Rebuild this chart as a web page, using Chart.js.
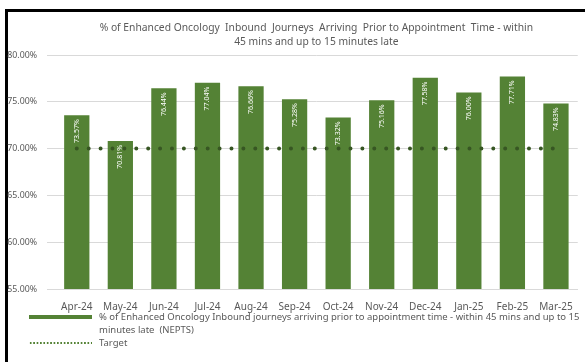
<!DOCTYPE html>
<html>
<head>
<meta charset="utf-8">
<script src="https://cdn.jsdelivr.net/npm/chart.js@4.4.1/dist/chart.umd.min.js"></script>
<style>
  html, body { margin: 0; padding: 0; background: #fff; }
  body { width: 585px; height: 362px; position: relative; overflow: hidden; font-family: "Noto Sans", sans-serif; }
  #frame { position: absolute; left: 5px; top: 9px; width: 700px; height: 500px; border-left: 3px solid #000; border-top: 3px solid #000; }
  #wrap { position: absolute; left: 0; top: 0; width: 585px; height: 325px; }
  #legend { position: absolute; left: 29px; top: 310px; width: 554px; font-size: 9.5px; color: #595959; line-height: 13px; }
  .row { display: flex; align-items: flex-start; }
  .swatch { width: 63px; flex: none; margin-right: 7px; height: 13px; position: relative; }
  .bar-sw { position: absolute; left: 0; right: 0; top: 5px; height: 4px; background: #548235; }
  .dot-sw { position: absolute; left: 0; right: 0; top: 6px; height: 2px; background-image: radial-gradient(circle, #548235 0.9px, transparent 1.1px); background-size: 3.4px 2px; }
</style>
</head>
<body>
<div id="frame"></div>
<div id="wrap"><canvas id="chart"></canvas></div>
<div id="legend">
  <div class="row"><div class="swatch"><div class="bar-sw"></div></div><div>% of Enhanced Oncology Inbound journeys arriving prior to appointment time - within 45 mins and up to 15 minutes late&nbsp; (NEPTS)</div></div>
  <div class="row"><div class="swatch"><div class="dot-sw"></div></div><div>Target</div></div>
</div>
<script>
// Dados do gráfico
const months = ['Apr-24', 'May-24', 'Jun-24', 'Jul-24', 'Aug-24', 'Sep-24', 'Oct-24', 'Nov-24', 'Dec-24', 'Jan-25', 'Feb-25', 'Mar-25'];
const journeys = [73.57, 70.81, 76.44, 77.04, 76.66, 75.28, 73.32, 75.16, 77.58, 76.00, 77.71, 74.83];
const target = [70, 70, 70, 70, 70, 70, 70, 70, 70, 70, 70, 70];
const yTicks = [55, 60, 65, 70, 75, 80];

const barGreen = '#548235';
const darkGreen = '#375623';
const textGrey = '#595959';

// rótulos verticais dentro das barras
const barLabels = {
    id: 'barLabels',
    afterDatasetsDraw(chart) {
        const ctx = chart.ctx;
        const meta = chart.getDatasetMeta(0);
        ctx.save();
        ctx.fillStyle = '#ffffff';
        ctx.font = '7px "Noto Sans"';
        ctx.textAlign = 'right';
        ctx.textBaseline = 'middle';
        meta.data.forEach((bar, i) => {
            ctx.save();
            ctx.translate(bar.x, bar.y + 4);
            ctx.rotate(-Math.PI / 2);
            ctx.fillText(journeys[i].toFixed(2) + '%', 0, 0);
            ctx.restore();
        });
        ctx.restore();
    }
};

new Chart(document.getElementById('chart'), {
    type: 'bar',
    data: {
        labels: months,
        datasets: [{
            label: '% of Enhanced Oncology Inbound journeys arriving prior to appointment time - within 45 mins and up to 15 minutes late  (NEPTS)',
            data: journeys,
            backgroundColor: barGreen,
            borderWidth: 0,
            categoryPercentage: 0.58,
            barPercentage: 1,
            order: 2
        }, {
            type: 'line',
            label: 'Target',
            data: target,
            borderColor: darkGreen,
            borderWidth: 4,
            borderDash: [0, 11.9],
            borderCapStyle: 'round',
            pointRadius: 0,
            fill: false,
            order: 1
        }]
    },
    options: {
        responsive: true,
        maintainAspectRatio: false,
        animation: false,
        layout: { padding: { left: 5, right: 3, top: 8, bottom: 0 } },
        plugins: {
            legend: { display: false },
            tooltip: { enabled: false },
            title: {
                display: true,
                fullSize: false,
                text: ['% of Enhanced Oncology  Inbound  Journeys  Arriving  Prior to Appointment  Time - within', '45 mins and up to 15 minutes late'],
                color: textGrey,
                font: { family: '"Noto Sans"', size: 10.3, weight: 'normal', lineHeight: 1.36 },
                padding: { top: 13, bottom: 6 }
            }
        },
        scales: {
            x: {
                grid: { display: false, drawTicks: false },
                border: { color: '#d9d9d9' },
                ticks: { color: textGrey, font: { family: '"Noto Sans"', size: 10 }, maxRotation: 0, padding: 12 }
            },
            y: {
                min: 55,
                max: 80,
                afterBuildTicks: axis => { axis.ticks = yTicks.map(v => ({ value: v })); },
                afterFit: axis => { axis.width = 50; },
                grid: { color: '#d9d9d9' },
                border: { display: false },
                ticks: {
                    color: textGrey,
                    font: { family: '"Noto Sans"', size: 8.8 },
                    padding: 10,
                    callback: v => v.toFixed(2) + '%'
                }
            }
        }
    },
    plugins: [barLabels]
});
</script>
</body>
</html>
